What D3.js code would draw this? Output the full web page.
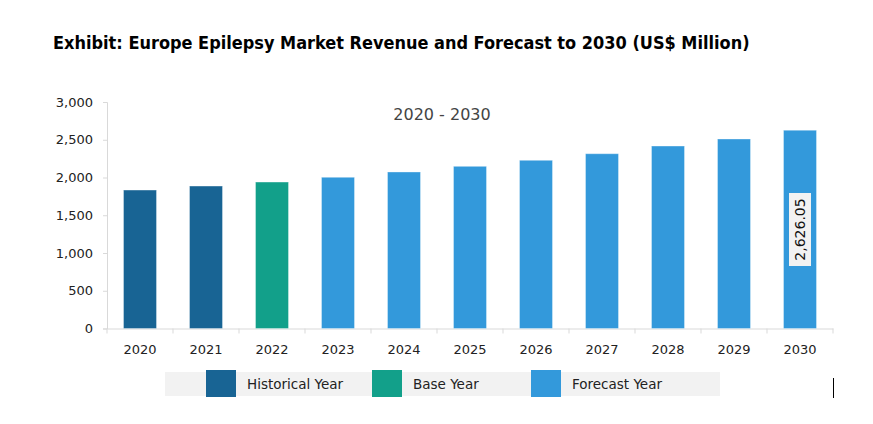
<!DOCTYPE html>
<html><head><meta charset="utf-8">
<script src="https://cdn.jsdelivr.net/npm/d3@7"></script>
<style>body{margin:0;background:#fff}svg{display:block}</style>
</head><body>
<svg id="c" width="873" height="424"></svg>
<script>
const years = ["2020","2021","2022","2023","2024","2025","2026","2027","2028","2029","2030"];
const revenue = [1834, 1887, 1940, 2003, 2073, 2148, 2228, 2315, 2417, 2510, 2626.05];
const yearType = ["Historical Year","Historical Year","Base Year","Forecast Year","Forecast Year","Forecast Year","Forecast Year","Forecast Year","Forecast Year","Forecast Year","Forecast Year"];
const legendLabels = ["Historical Year","Base Year","Forecast Year"];
const yTicks = [0, 500, 1000, 1500, 2000, 2500, 3000];
const title = "Exhibit: Europe Epilepsy Market Revenue and Forecast to 2030 (US$ Million)";
const subtitle = "2020 - 2030";

const colors = {"Historical Year":"#186494","Base Year":"#12a08a","Forecast Year":"#3399db"};
const svg = d3.select("#c");
const font = "DejaVu Sans, Verdana, sans-serif";

const t = svg.append("text").attr("x",53).attr("y",49).attr("font-family","DejaVu Sans Condensed, DejaVu Sans, sans-serif")
  .attr("font-weight","bold").attr("font-size",17.5).attr("fill","#000").text(title);
// fit to reference width
const tw = t.node().getComputedTextLength();
if (Math.abs(tw-697) > 4) t.attr("font-size", 17.5*697/tw);

const x = d3.scaleBand().domain(years).range([107,833]).paddingInner(0.5).paddingOuter(0.25);
const y = d3.scaleLinear().domain([0,3000]).range([328.5,102]);

svg.append("text").attr("x",442).attr("y",120).attr("text-anchor","middle")
  .attr("font-family",font).attr("font-size",16).attr("fill","#444").text(subtitle);

// y axis
const ya = svg.append("g").attr("transform","translate(107,0)")
  .call(d3.axisLeft(y).tickValues(yTicks).tickSize(4).tickPadding(10).tickFormat(d3.format(",")));
ya.select(".domain").attr("stroke","#d9d9d9");
ya.selectAll(".tick line").attr("stroke","#d9d9d9");
ya.selectAll("text").attr("font-family",font).attr("font-size",13).attr("fill","#222");

// x axis
const xb = d3.scaleBand().domain(years).range([107,833]);
const xa = svg.append("g").attr("transform","translate(0,328.5)")
  .call(d3.axisBottom(xb).tickSize(0).tickPadding(16));
xa.select(".domain").attr("stroke","#d9d9d9");
xa.selectAll("text").attr("font-family",font).attr("font-size",13).attr("fill","#222");
xa.selectAll(".sep").data(years.concat(["end"])).enter().append("line")
  .attr("x1",(d,i)=>107 + i*xb.step()).attr("x2",(d,i)=>107 + i*xb.step())
  .attr("y1",0).attr("y2",5).attr("stroke","#d9d9d9");

// bars
svg.append("g").selectAll("rect").data(years).enter().append("rect")
  .attr("x",d=>x(d)).attr("width",x.bandwidth())
  .attr("y",(d,i)=>y(revenue[i])).attr("height",(d,i)=>y(0)-y(revenue[i]))
  .attr("fill",(d,i)=>colors[yearType[i]])
  .attr("stroke","rgba(255,255,255,0.35)").attr("stroke-width",1);

// data label on last bar
const li = years.length-1;
const cx = x(years[li]) + x.bandwidth()/2;
svg.append("rect").attr("x",cx-11).attr("y",193).attr("width",22).attr("height",73).attr("fill","#f2f2f2");
svg.append("text").attr("transform",`translate(${cx+5},229.5) rotate(-90)`)
  .attr("text-anchor","middle").attr("font-family",font).attr("font-size",14).attr("fill","#111")
  .text(d3.format(",.2f")(revenue[li]));

// legend
svg.append("rect").attr("x",165).attr("y",372).attr("width",555).attr("height",24).attr("fill","#f2f2f2");
const lx = [206, 372, 531];
legendLabels.forEach((l,i)=>{
  svg.append("rect").attr("x",lx[i]).attr("y",370).attr("width",30).attr("height",27).attr("fill",colors[l]);
  svg.append("text").attr("x",lx[i]+41).attr("y",389).attr("font-family",font).attr("font-size",13.5)
    .attr("fill","#222").text(l);
});
svg.append("line").attr("x1",833.5).attr("x2",833.5).attr("y1",378).attr("y2",398).attr("stroke","#000");
</script>
</body></html>
